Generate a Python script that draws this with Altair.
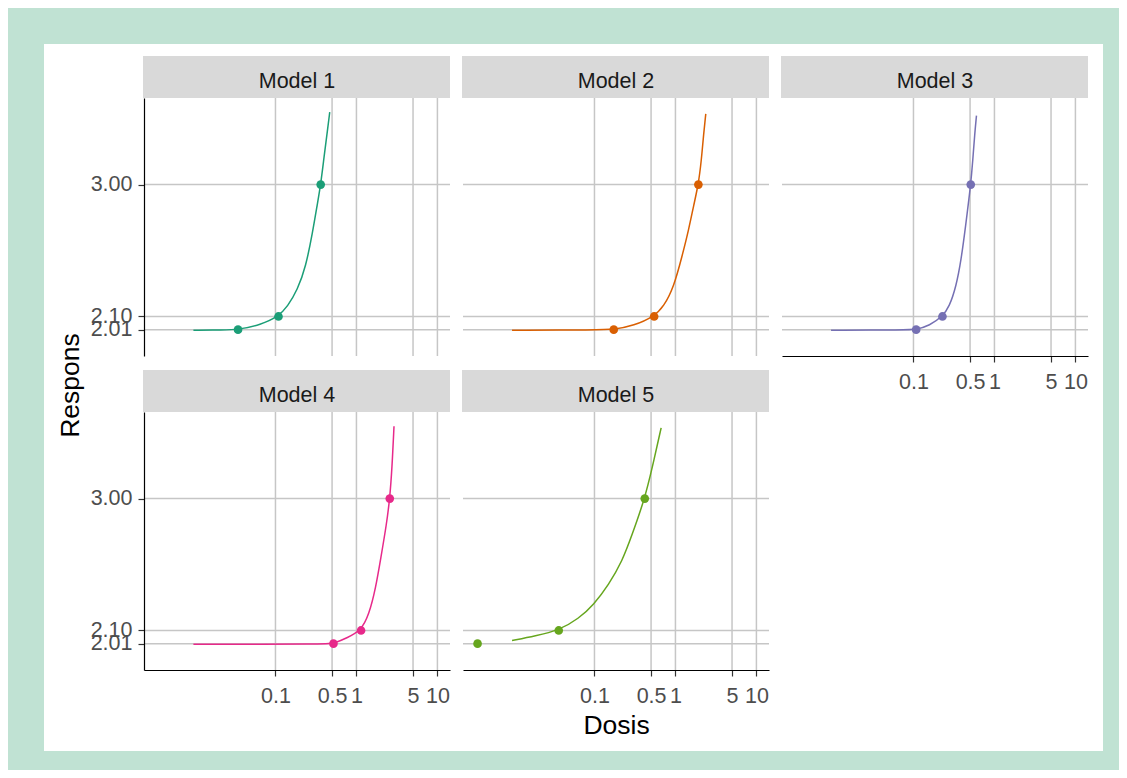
import altair as alt
import pandas as pd

FONT = "Liberation Sans"

models = ["Model 1", "Model 2", "Model 3", "Model 4", "Model 5"]
colors = ["#1B9E77", "#D95F02", "#7570B3", "#E7298A", "#66A61E"]

x_breaks = [0.1, 0.5, 1, 5, 10]
y_breaks = [2.01, 2.10, 3.00]

# fitted curves
m1_x = [0.0097, 0.0222, 0.0345, 0.0659, 0.109, 0.141, 0.187, 0.237, 0.286, 0.330, 0.362, 0.398, 0.4385, 0.468]
m1_y = [2.005, 2.008, 2.010, 2.043, 2.100, 2.168, 2.281, 2.440, 2.667, 2.871, 3.000, 3.188, 3.369, 3.494]
m2_x = [0.0096, 0.108, 0.173, 0.306, 0.546, 0.717, 0.953, 1.21, 1.46, 1.68, 1.92, 2.09, 2.23, 2.37]
m2_y = [2.005, 2.008, 2.010, 2.037, 2.100, 2.168, 2.300, 2.513, 2.694, 2.859, 3.000, 3.165, 3.347, 3.483]
m3_x = [0.0096, 0.0813, 0.108, 0.158, 0.228, 0.278, 0.336, 0.388, 0.439, 0.510, 0.540, 0.571, 0.600]
m3_y = [2.005, 2.008, 2.010, 2.037, 2.100, 2.168, 2.304, 2.485, 2.712, 3.000, 3.165, 3.347, 3.471]
m4_x = [0.0097, 0.4385, 0.520, 0.774, 1.14, 1.43, 1.73, 2.00, 2.35, 2.58, 2.75, 2.91]
m4_y = [2.005, 2.007, 2.010, 2.050, 2.100, 2.208, 2.390, 2.595, 2.823, 3.000, 3.209, 3.494]
m5_x = [0.0096, 0.0187, 0.0362, 0.064, 0.098, 0.150, 0.220, 0.292, 0.418, 0.516, 0.666]
m5_y = [2.031, 2.063, 2.100, 2.181, 2.276, 2.413, 2.572, 2.754, 3.000, 3.209, 3.483]

# marked doses at responses 2.01, 2.10, 3.00
point_y = [2.01, 2.10, 3.00]
p1_x = [0.0345, 0.109, 0.362]
p2_x = [0.173, 0.546, 1.92]
p3_x = [0.108, 0.228, 0.510]
p4_x = [0.520, 1.14, 2.58]
p5_x = [0.0036, 0.0362, 0.418]

curves_x = [m1_x, m2_x, m3_x, m4_x, m5_x]
curves_y = [m1_y, m2_y, m3_y, m4_y, m5_y]
points_x = [p1_x, p2_x, p3_x, p4_x, p5_x]

W, H = 306, 258
STRIP = 42

xscale = alt.Scale(type="log", domain=[0.00238, 14.3], nice=False)
yscale = alt.Scale(domain=[1.830, 3.591], nice=False, zero=False)

common_axis = dict(
    grid=False, domainColor="black", domainWidth=1.2,
    tickColor="#333333", tickSize=6, tickWidth=1.2,
    labelColor="#4D4D4D", labelFontSize=21.5, labelFont=FONT,
    labelOverlap=False, labelFlush=False, zindex=1,
    titleFont=FONT, titleFontSize=26.5, titleColor="black", titleFontWeight="normal",
)


def make_x_axis(show, title=None):
    if not show:
        return None
    if title:
        return alt.Axis(values=x_breaks, format="~g", labelPadding=9, title=title,
                        titleBaseline="alphabetic", titleY=63, titleX=W / 2,
                        titleAlign="center", **common_axis)
    return alt.Axis(values=x_breaks, format="~g", labelPadding=9, title=None, **common_axis)


def make_y_axis(show, title=None):
    if not show:
        return None
    if title:
        return alt.Axis(values=y_breaks, format=".2f", labelPadding=6, title=title,
                        titleAngle=270, titleBaseline="alphabetic", titleAlign="center",
                        titleX=-66, titleY=-27, **common_axis)
    return alt.Axis(values=y_breaks, format=".2f", labelPadding=6, title=None, **common_axis)


def panel(i, show_x, show_y, xtitle=None, ytitle=None, white_bg=False):
    xa = make_x_axis(show_x, xtitle)
    ya = make_y_axis(show_y, ytitle)
    X = lambda: alt.X("x:Q", scale=xscale, axis=xa)
    Y = lambda: alt.Y("y:Q", scale=yscale, axis=ya)

    one = pd.DataFrame({"model": [models[i]]})
    layers = []
    if white_bg:
        layers.append(
            alt.Chart(one).mark_rect(color="white").encode(
                x=alt.value(-100), x2=alt.value(959), y=alt.value(-54), y2=alt.value(653)
            )
        )
    layers.append(
        alt.Chart(one).mark_rect(color="#D9D9D9").encode(
            x=alt.value(-1), x2=alt.value(W), y=alt.value(-STRIP), y2=alt.value(0)
        )
    )
    layers.append(
        alt.Chart(one).mark_text(font=FONT, fontSize=21.5, color="#1A1A1A",
                                 align="center", baseline="alphabetic").encode(
            x=alt.value(W / 2), y=alt.value(-10), text="model:N"
        )
    )
    layers.append(
        alt.Chart(pd.DataFrame({"x": x_breaks})).mark_rule(color="#C6C6C6", strokeWidth=1.5).encode(x=X())
    )
    layers.append(
        alt.Chart(pd.DataFrame({"y": y_breaks})).mark_rule(color="#C6C6C6", strokeWidth=1.5).encode(y=Y())
    )
    curve = pd.DataFrame({"x": curves_x[i], "y": curves_y[i]})
    layers.append(
        alt.Chart(curve).mark_line(color=colors[i], strokeWidth=1.5, interpolate="basis").encode(x=X(), y=Y())
    )
    pts = pd.DataFrame({"x": points_x[i], "y": point_y})
    layers.append(
        alt.Chart(pts).mark_point(color=colors[i], filled=True, opacity=1, size=75, shape="circle").encode(x=X(), y=Y())
    )
    return alt.layer(*layers).properties(width=W, height=H)


p1 = panel(0, show_x=False, show_y=True, white_bg=True)
p2 = panel(1, show_x=False, show_y=False)
p3 = panel(2, show_x=True, show_y=False)
p4 = panel(3, show_x=True, show_y=True, ytitle="Respons")
p5 = panel(4, show_x=True, show_y=False, xtitle="Dosis")

chart = alt.concat(
    p1, p2, p3, p4, p5,
    columns=3,
    spacing={"row": 56, "column": 13},
    bounds="flush",
).properties(
    background="#C0E2D3",
    padding={"left": 36, "top": 36, "right": 16, "bottom": 19},
).configure_view(stroke=None)

chart.save("out.html", embed_options={"renderer": "svg", "actions": False})
